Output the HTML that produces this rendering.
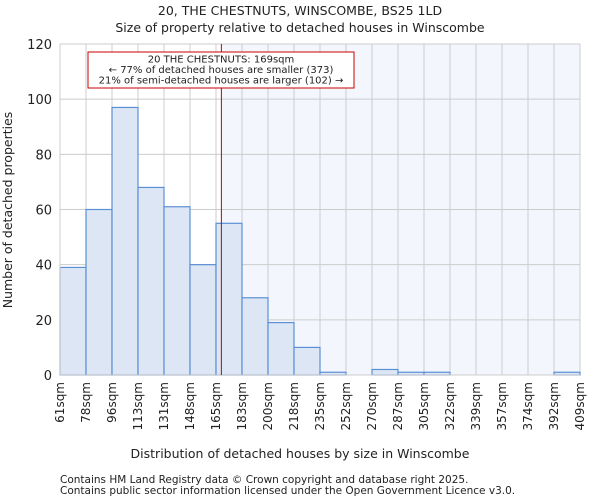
<!DOCTYPE html>
<html><head><meta charset="utf-8"><style>
body{margin:0;background:#fff;font-family:"DejaVu Sans","Liberation Sans",sans-serif;}
svg text{font-family:"DejaVu Sans","Liberation Sans",sans-serif;fill:#222}
</style></head><body>
<svg id="c" width="600" height="500">
<text x="300" y="15" font-size="12.5" text-anchor="middle">20, THE CHESTNUTS, WINSCOMBE, BS25 1LD</text>
<text x="300" y="32" font-size="12.5" text-anchor="middle">Size of property relative to detached houses in Winscombe</text>
<g id="plot"></g>
<text x="300" y="458" font-size="12.5" text-anchor="middle">Distribution of detached houses by size in Winscombe</text>
<text transform="translate(12,210) rotate(-90)" font-size="12.5" text-anchor="middle">Number of detached properties</text>
<text x="60" y="483" font-size="10.5" fill="#444">Contains HM Land Registry data © Crown copyright and database right 2025.</text>
<text x="60" y="494" font-size="10.5" fill="#444">Contains public sector information licensed under the Open Government Licence v3.0.</text>
</svg>
<script>
const tickLabels=["61sqm","78sqm","96sqm","113sqm","131sqm","148sqm","165sqm","183sqm","200sqm","218sqm","235sqm","252sqm","270sqm","287sqm","305sqm","322sqm","339sqm","357sqm","374sqm","392sqm","409sqm"];
const counts=[39,60,97,68,61,40,55,28,19,10,1,0,2,1,1,0,0,0,0,1];
const yTicks=[0,20,40,60,80,100,120];
const subjectSize=169, minSize=61, maxSize=409;
const L=60,R=580,T=44,B=375,yMax=120;
const ns="http://www.w3.org/2000/svg";
const g=document.getElementById('plot');
function x(i){return L+i*(R-L)/counts.length;}
function xv(v){return L+(v-minSize)/(maxSize-minSize)*(R-L);}
function y(v){return B-v/yMax*(B-T);}
function el(t,a,p){const e=document.createElementNS(ns,t);for(const k in a)e.setAttribute(k,a[k]);(p||g).appendChild(e);return e;}
const sx=xv(subjectSize);
const sh=el('rect',{x:sx,y:T,width:R-sx,height:B-T,fill:'#f3f6fd'});


yTicks.forEach(t=>{
  const l=el('line',{x1:L,x2:R,y1:y(t),y2:y(t),stroke:'#ccc','stroke-width':1});
  
  
  const tx=el('text',{x:L-8,y:y(t)+5,'font-size':13,'text-anchor':'end'});
  tx.textContent=t;
  
  
});
tickLabels.forEach((lab,i)=>{
  const l=el('line',{x1:x(i),x2:x(i),y1:T,y2:B,stroke:'#ccc','stroke-width':1});
  
  
  const tx=el('text',{transform:`translate(${x(i)+4},382) rotate(-90)`,'font-size':12,'text-anchor':'end'});
  tx.textContent=lab;
  
  
});
counts.forEach((c,i)=>{
  if(c<=0)return;
  const r=el('rect',{x:x(i),y:y(c),width:x(i+1)-x(i),height:B-y(c),fill:'#dce6f4',stroke:'#5b8fd6','stroke-width':1.2});
  
  
});
const ax=el('path',{d:`M${L},${T}V${B}H${R}`,fill:'none',stroke:'#ccc'});


const ml=el('line',{x1:sx,x2:sx,y1:T,y2:B,stroke:'#c00','stroke-width':1});


const box=el('rect',{x:88,y:52,width:266,height:36,fill:'#fff',stroke:'#c00','stroke-width':1});


["20 THE CHESTNUTS: 169sqm","← 77% of detached houses are smaller (373)","21% of semi-detached houses are larger (102) →"].forEach((s,k)=>{
  const t=el('text',{x:221,y:62.5+k*10.5,'font-size':10,'text-anchor':'middle'});
  t.textContent=s;
  
  
});
</script>
</body></html>
